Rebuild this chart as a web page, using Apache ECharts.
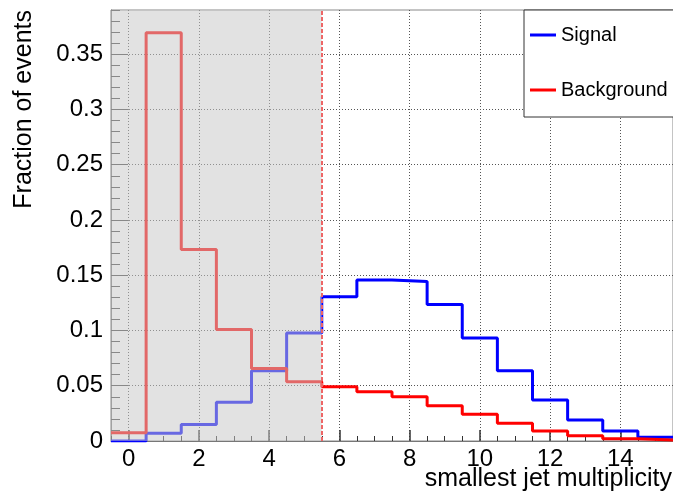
<!DOCTYPE html>
<html>
<head>
<meta charset="utf-8">
<script src="https://cdn.jsdelivr.net/npm/echarts@6/dist/echarts.min.js"></script>
<style>
html,body{margin:0;padding:0;background:#fff;}
#chart{width:673px;height:498px;}
</style>
</head>
<body>
<div id="chart"></div>
<script>
// ---- data ----
const binCenters = [0, 1, 2, 3, 4, 5, 6, 7, 8, 9, 10, 11, 12, 13, 14, 15];
const signal =     [0.0, 0.007, 0.015, 0.035, 0.0636, 0.0977, 0.1305, 0.1456, 0.1444, 0.1236, 0.0931, 0.0636, 0.0371, 0.019, 0.009, 0.0033];
const background = [0.0075, 0.3695, 0.1733, 0.101, 0.0657, 0.0536, 0.0491, 0.0446, 0.040, 0.0319, 0.0241, 0.016, 0.009, 0.0048, 0.0021, 0.001];
const binWidth = 1;
const xRange = [-0.5, 15.5];
const yRange = [0, 0.39];
const xMajorTicks = [0, 2, 4, 6, 8, 10, 12, 14];
const yMajorTicks = [0, 0.05, 0.1, 0.15, 0.2, 0.25, 0.3, 0.35];
const cutValue = 5.5;
const seriesNames = ['Signal', 'Background'];
const xTitle = 'smallest jet multiplicity';
const yTitle = 'Fraction of events';

// minor tick positions
const xMinorTicks = [];
for (let v = xRange[0]; v <= xRange[1] + 1e-9; v += 0.5) {
  if (xMajorTicks.indexOf(v) < 0) xMinorTicks.push(v);
}
const yMinorTicks = [];
for (let k = 1; k <= 39; k++) {
  if (k % 5 !== 0) yMinorTicks.push(+(k / 100).toFixed(2));
}

function stepData(values) {
  const out = [];
  binCenters.forEach((c, i) => {
    out.push([c - binWidth / 2, values[i]]);
    out.push([c + binWidth / 2, values[i]]);
  });
  return out;
}

const FONT = 'Liberation Sans, Arial, Helvetica, sans-serif';
const chart = echarts.init(document.getElementById('chart'), null, {renderer: 'canvas'});

chart.setOption({
  animation: false,
  backgroundColor: '#fff',
  grid: {left: 111, top: 10, width: 563, height: 431, show: true, borderColor: '#888', borderWidth: 1},
  xAxis: [{
    type: 'value', min: xRange[0], max: xRange[1], position: 'bottom',
    axisLine: {show: true, onZero: false, lineStyle: {color: '#777', width: 1}},
    axisTick: {show: true, inside: true, length: 11, customValues: xMajorTicks, lineStyle: {color: '#333', width: 1.5}},
    axisLabel: {show: true, customValues: xMajorTicks, fontSize: 24, color: '#000', fontFamily: FONT, margin: 6},
    splitLine: {show: true, lineStyle: {type: [1, 2], color: '#555', width: 1}}
  }, {
    type: 'value', min: xRange[0], max: xRange[1], position: 'bottom', gridIndex: 0,
    axisLine: {show: false, onZero: false},
    axisTick: {show: true, inside: true, length: 5, customValues: xMinorTicks, lineStyle: {color: '#333', width: 1}},
    axisLabel: {show: false},
    splitLine: {show: false}
  }],
  yAxis: [{
    type: 'value', min: yRange[0], max: yRange[1], position: 'left',
    axisLine: {show: true, onZero: false, lineStyle: {color: '#777', width: 1}},
    axisTick: {show: true, inside: true, length: 17, customValues: yMajorTicks, lineStyle: {color: '#444', width: 1}},
    axisLabel: {show: true, customValues: yMajorTicks, fontSize: 24, color: '#000', fontFamily: FONT, margin: 8,
      formatter: v => String(+(+v).toFixed(2))},
    splitLine: {show: true, lineStyle: {type: [1, 2], color: '#555', width: 1}}
  }, {
    type: 'value', min: yRange[0], max: yRange[1], position: 'left', gridIndex: 0,
    axisLine: {show: false, onZero: false},
    axisTick: {show: true, inside: true, length: 9, customValues: yMinorTicks, lineStyle: {color: '#444', width: 1}},
    axisLabel: {show: false},
    splitLine: {show: false}
  }],
  legend: {
    data: seriesNames, orient: 'vertical', left: 524, top: 10,
    padding: [13, 14, 15, 6], itemGap: 31, itemWidth: 26, itemHeight: 3, icon: 'rect',
    borderColor: '#333', borderWidth: 1, backgroundColor: '#fff', borderRadius: 0,
    textStyle: {fontSize: 20, color: '#000', fontFamily: FONT, lineHeight: 24},
    z: 20
  },
  graphic: [
    {type: 'text', x: 24, y: 10, rotation: Math.PI / 2, z: 30,
      style: {text: yTitle, fill: '#000', font: '25px ' + FONT, align: 'right', verticalAlign: 'middle'}},
    {type: 'text', x: 672, y: 479, z: 30,
      style: {text: xTitle, fill: '#000', font: '25px ' + FONT, align: 'right', verticalAlign: 'middle'}}
  ],
  series: [
    {name: seriesNames[0], type: 'line', data: stepData(signal), xAxisIndex: 0, yAxisIndex: 0,
      showSymbol: false, symbol: 'none', color: '#0000ff', lineStyle: {color: '#0000ff', width: 3}, z: 3, silent: true},
    {name: seriesNames[1], type: 'line', data: stepData(background), xAxisIndex: 0, yAxisIndex: 0,
      showSymbol: false, symbol: 'none', color: '#ff0000', lineStyle: {color: '#ff0000', width: 3}, z: 3, silent: true},
    {name: 'cut', type: 'line', data: [], xAxisIndex: 0, yAxisIndex: 0, z: 10, silent: true,
      markArea: {silent: true, z: 10, itemStyle: {color: 'rgba(200,200,200,0.52)'},
        data: [[{xAxis: xRange[0]}, {xAxis: cutValue}]]},
      markLine: {silent: true, z: 11, symbol: 'none', label: {show: false},
        lineStyle: {color: '#ee6666', type: [4, 2], width: 2},
        data: [{xAxis: cutValue}]}
    }
  ]
});
</script>
</body>
</html>
